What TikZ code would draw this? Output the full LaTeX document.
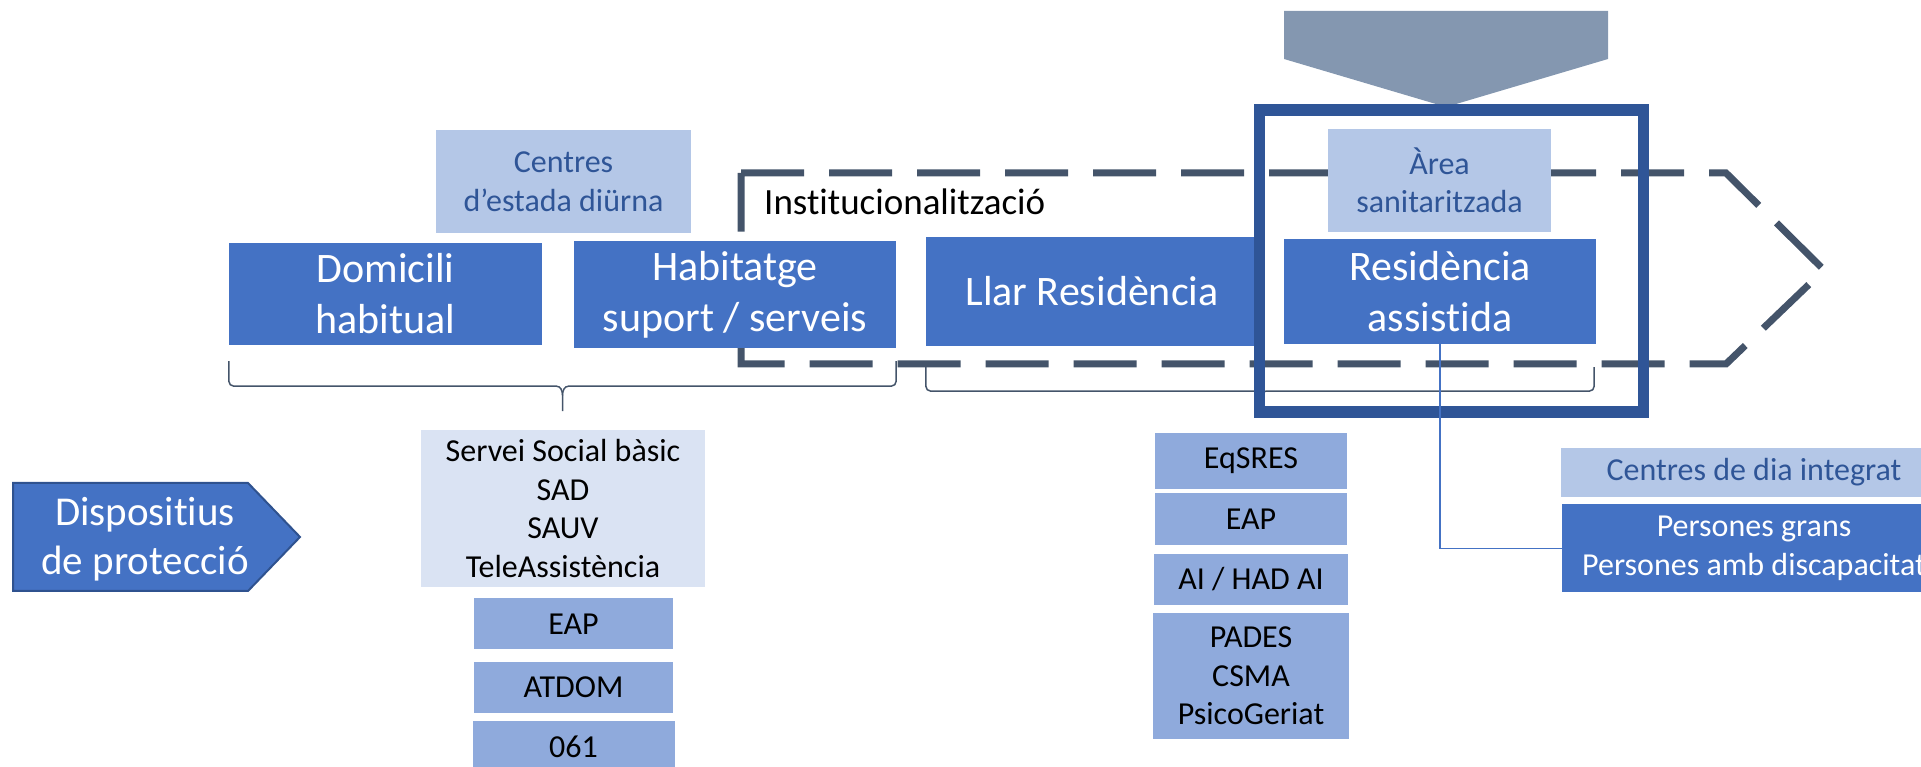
\documentclass[tikz,border=0pt]{standalone}
\usepackage{fontspec}
\setmainfont{Carlito}[Ligatures={NoCommon,NoContextual}]
\usepackage{tikz}
\usetikzlibrary{positioning,calc}
\usepackage{xcolor}

\definecolor{mainblue}{HTML}{4472C4}
\definecolor{lightblue}{HTML}{B4C7E7}
\definecolor{paleblue}{HTML}{DAE3F3}
\definecolor{midblue}{HTML}{8FAADC}
\definecolor{darkblue}{HTML}{2F5597}
\definecolor{edgeblue}{HTML}{2F528F}
\definecolor{slate}{HTML}{44546A}
\definecolor{greyblue}{HTML}{8497B0}

\newcommand{\bigfont}{\fontsize{42}{51}\selectfont}
\newcommand{\midfont}{\fontsize{37}{44}\selectfont}
\newcommand{\smallfont}{\fontsize{32}{38.5}\selectfont}

\begin{document}
\begin{tikzpicture}[x=1pt, y=1pt]
    \tikzstyle{mainbox} = [rectangle, fill=mainblue, text=white, inner sep=0pt,
               align=center, font=\bigfont]
    \tikzstyle{lightbox} = [rectangle, fill=lightblue, text=darkblue, inner sep=0pt,
               align=center, font=\smallfont]
    \tikzstyle{palebox} = [rectangle, fill=paleblue, text=black, inner sep=0pt,
               align=center, font=\smallfont]
    \tikzstyle{midbox} = [rectangle, fill=midblue, text=black, inner sep=0pt,
               align=center, font=\smallfont]
    \tikzstyle{dashline} = [draw=slate, line width=7pt, dash pattern=on 63pt off 25pt]
    \tikzstyle{braceline} = [draw=slate, line width=1.5pt]
    \tikzstyle{line} = [draw=mainblue, line width=1.2pt]

    \useasboundingbox (0,0) rectangle (1921,767);
    \clip (0,0) rectangle (1921,767);

    % Arrow on top
    \fill[greyblue] (1284,756) -- (1608,756) -- (1608,708) -- (1446,660)
        -- (1284,708) -- cycle;

    % Institutionalisation path
    \draw[dashline] (741,594) -- (1726,594) -- (1824,497) -- (1726,403)
        -- (741,403) -- cycle;

    % Main row
    \node[mainbox, minimum width=313pt, minimum height=102pt] (domicili)
        at (385.5,473) {Domicili\\habitual};
    \node[mainbox, minimum width=322pt, minimum height=107pt] (habitatge)
        at (735,472.5) {Habitatge\\suport / serveis};
    \node[mainbox, minimum width=332pt, minimum height=109pt] (llar)
        at (1092,475.5) {Llar Residència};
    \node[mainbox, minimum width=312pt, minimum height=105pt] (residencia)
        at (1440,475.5) {Residència\\assistida};

    \node[lightbox, minimum width=255pt, minimum height=103pt] (diurna)
        at (563.5,585.5) {Centres\\d’estada diürna};
    \node[lightbox, minimum width=223pt, minimum height=103pt] (area)
        at (1439.5,586.5) {Àrea\\sanitaritzada};

    \node[font=\midfont, anchor=west, inner sep=0pt] (institu)
        at (764,565) {Institucionalització};

    % Braces
    \coordinate (b1l) at ([yshift=-16pt]domicili.south west);
    \coordinate (b1r) at (habitatge.east |- b1l);
    \coordinate (b1m) at ($(b1l)!.5!(b1r)$);
    \draw[braceline] (b1l) -- ++(0,-20) to[out=-90,in=180] ++(5,-5)
        -- ([xshift=-6pt,yshift=-25pt]b1m) to[out=0,in=90] ++(6,-9) -- ++(0,-16);
    \draw[braceline] (b1r) -- ++(0,-20) to[out=-90,in=0] ++(-5,-5)
        -- ([xshift=6pt,yshift=-25pt]b1m) to[out=180,in=90] ++(-6,-9);

    \coordinate (b2l) at ([yshift=-21pt]llar.south west);
    \coordinate (b2r) at ([xshift=-2pt]residencia.south east |- b2l);
    \coordinate (b2m) at ($(b2l)!.5!(b2r)$);
    \draw[braceline] (b2l) -- ++(0,-19) to[out=-90,in=180] ++(5,-5)
        -- ([xshift=-6pt,yshift=-24pt]b2m) to[out=0,in=90] ++(6,-9) -- ++(0,-16);
    \draw[braceline] (b2r) -- ++(0,-19) to[out=-90,in=0] ++(-5,-5)
        -- ([xshift=6pt,yshift=-24pt]b2m) to[out=180,in=90] ++(-6,-9);

    % Frame round the sanitised area
    \draw[darkblue, line width=11.5pt] (1259.5,657) rectangle (1643.5,355);

    % Left column of services
    \node[palebox, minimum width=284pt, minimum height=157pt] (servei)
        at (563,258.5) {Servei Social bàsic\\SAD\\SAUV\\TeleAssistència};
    \node[midbox, minimum width=199pt, minimum height=51pt, below=11pt of servei,
        xshift=10.5pt] (eapA) {EAP};
    \node[midbox, minimum width=199pt, minimum height=51pt, below=12pt of eapA]
        (atdom) {ATDOM};
    \node[midbox, minimum width=202pt, minimum height=51pt, below=8pt of atdom]
        (tel061) {061};

    % Right column of services
    \node[midbox, minimum width=192pt, minimum height=56pt] (eqsres)
        at (1251,306) {EqSRES};
    \node[midbox, minimum width=192pt, minimum height=52pt, below=4pt of eqsres]
        (eapB) {EAP};
    \node[midbox, minimum width=194pt, minimum height=51pt, below=8pt of eapB]
        (aihad) {AI / HAD AI};
    \node[midbox, minimum width=196pt, minimum height=126pt, below=8pt of aihad]
        (pades) {PADES\\CSMA\\PsicoGeriat};

    % Day centres
    \node[lightbox, minimum width=386pt, minimum height=49pt] (cdi)
        at (1754,294.5) {Centres de dia integrat};
    \node[mainbox, font=\smallfont, minimum width=384pt, minimum height=88pt,
        below=7pt of cdi] (persones) {Persones grans\\Persones amb discapacitat};

    \draw[line] (residencia.south) |- (persones.west);

    % Protection devices
    \draw[fill=mainblue, draw=edgeblue, line width=2pt] (13,284) -- (248,284)
        -- (300,230) -- (248,176) -- (13,176) -- cycle;
    \node[text=white, align=center, font=\fontsize{41}{49}\selectfont]
        (dispositius) at (145,228) {Dispositius\\de protecció};

  \end{tikzpicture}
\end{document}
